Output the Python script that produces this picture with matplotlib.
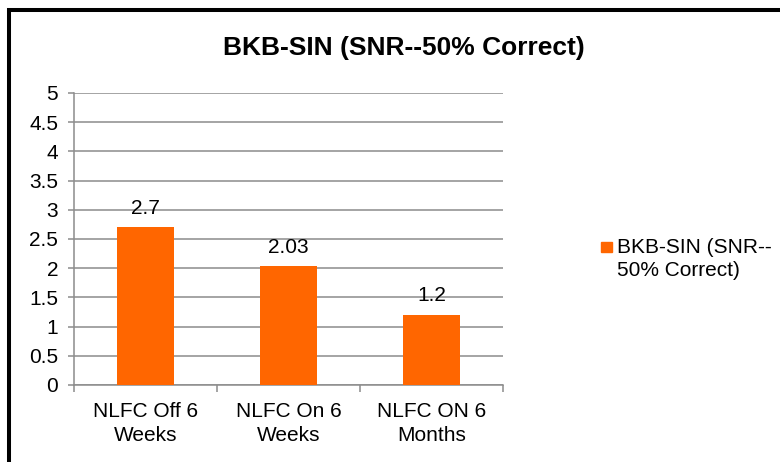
import numpy as np
import matplotlib
matplotlib.use("Agg")
import matplotlib.pyplot as plt
from matplotlib.patches import Rectangle

### data
categories = ["NLFC Off 6\nWeeks", "NLFC On 6\nWeeks", "NLFC ON 6\nMonths"]
values = [2.7, 2.03, 1.2]
series_name = "BKB-SIN (SNR--50% Correct)"
legend_label = "BKB-SIN (SNR--\n50% Correct)"
y_ticks = [0, 0.5, 1, 1.5, 2, 2.5, 3, 3.5, 4, 4.5, 5]
###---------------------------------------------------------------------

plt.rcParams["font.family"] = ["Liberation Sans", "DejaVu Sans"]
bar_color = "#FF6600"
grid_color = "#8c8c8c"
fs = 15

W, H = 780, 462
fig = plt.figure(figsize=(W / 100, H / 100), dpi=100)
ax = fig.add_axes([74 / W, 1 - 385 / H, 429 / W, 292 / H])

x = np.arange(len(categories))
bars = ax.bar(x, values, width=0.4, color=bar_color, zorder=3)
ax.bar_label(bars, labels=[f"{v:g}" for v in values], padding=7, fontsize=fs)

ax.set_xlim(-0.5, len(categories) - 0.5)
ax.set_ylim(0, 5)
ax.set_yticks(y_ticks)
ax.set_yticklabels([f"{t:g}" for t in y_ticks], fontsize=fs)
ax.yaxis.grid(True, color=grid_color, linewidth=1.1, zorder=0)
ax.set_axisbelow(True)

# category boundaries get the tick marks, labels sit in between
ax.set_xticks(np.arange(-0.5, len(categories), 1.0))
ax.set_xticklabels([])
ax.set_xticks(x, minor=True)
ax.set_xticklabels(categories, minor=True, fontsize=fs, linespacing=1.35)
ax.tick_params(axis="x", which="major", length=5, width=1.1, color=grid_color)
ax.tick_params(axis="x", which="minor", length=0, pad=12)
ax.tick_params(axis="y", length=4.5, width=1.1, color=grid_color, pad=7)

for side in ["top", "right"]:
    ax.spines[side].set_visible(False)
for side in ["left", "bottom"]:
    ax.spines[side].set_color(grid_color)
    ax.spines[side].set_linewidth(1.1)

fig.text(404 / W, 1 - 48 / H, series_name, ha="center", va="center",
         fontsize=19, fontweight="bold")

# legend drawn by hand so the marker sits on the first line
fig.patches.append(Rectangle((601 / W, 1 - 252 / H), 11 / W, 10 / H,
                             transform=fig.transFigure, color=bar_color))
fig.text(617 / W, 1 - 238 / H, legend_label, ha="left", va="top",
         fontsize=fs, linespacing=1.3)

# outer chart frame, cut off at right and bottom like the source
fig.patches.append(Rectangle((9 / W, -0.2), 1.5, 1.2 - 9.5 / H,
                             transform=fig.transFigure, fill=False,
                             edgecolor="black", linewidth=2.9))

plt.savefig("out.png", dpi=100)
